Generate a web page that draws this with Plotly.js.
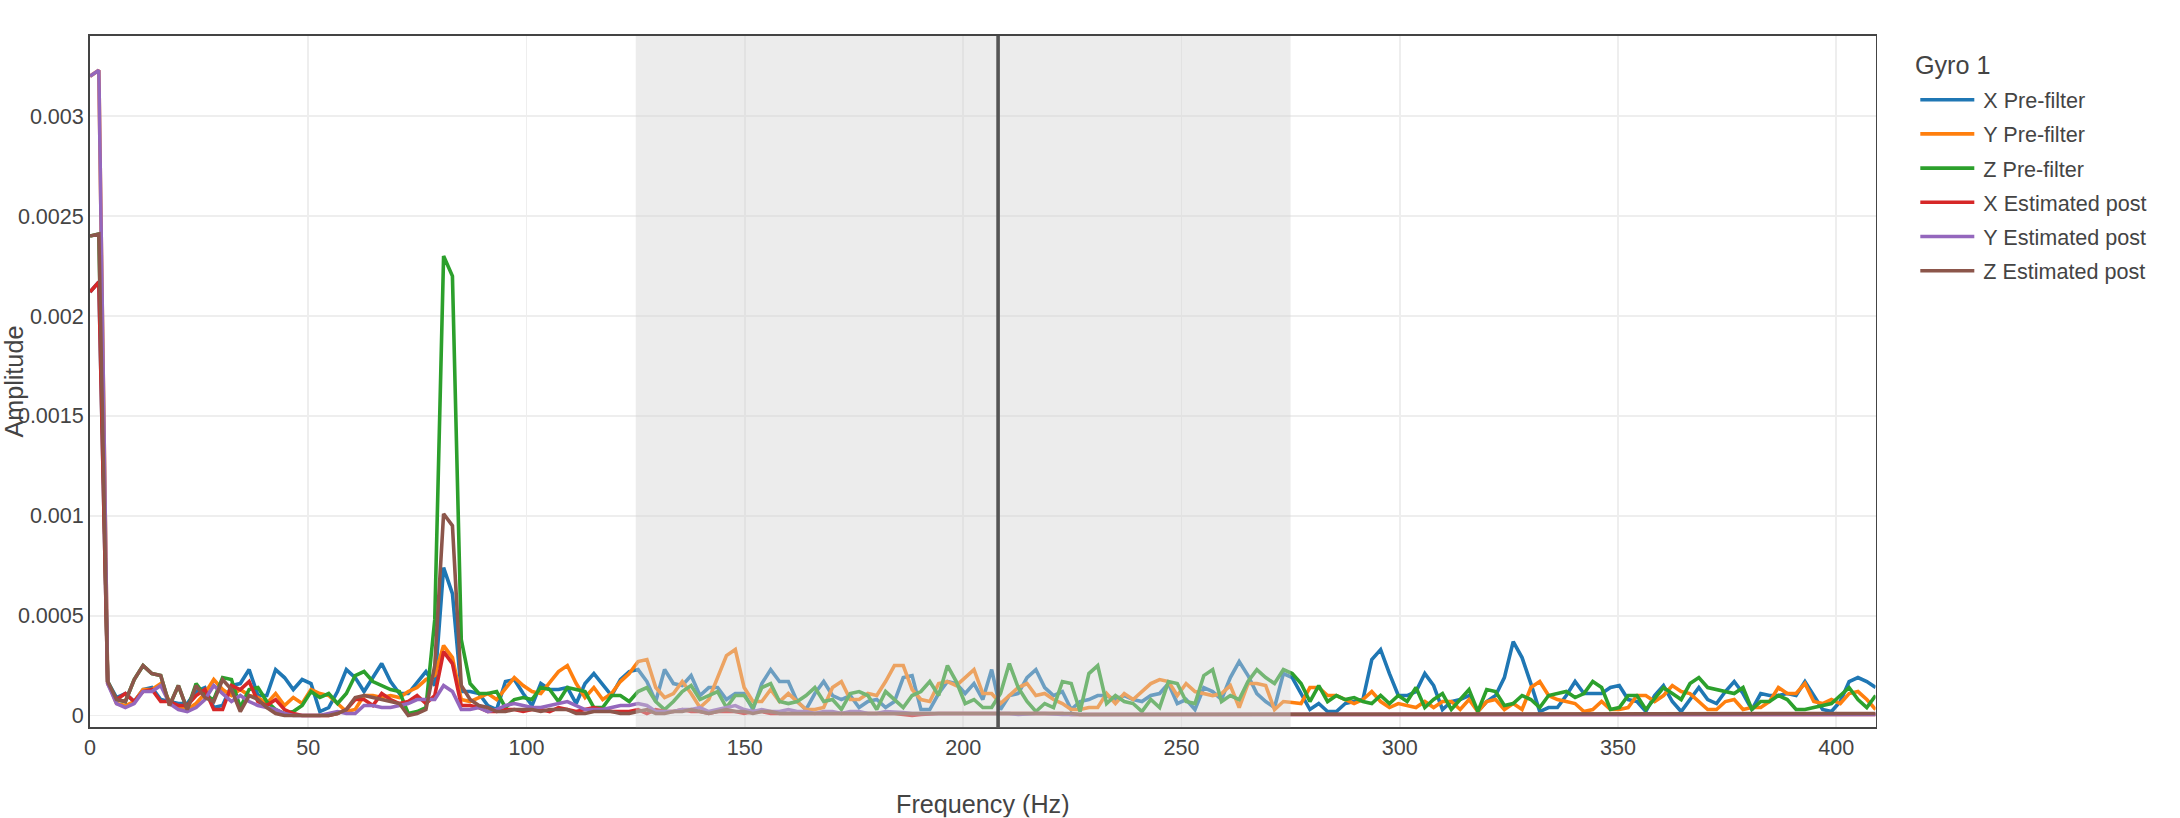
<!DOCTYPE html>
<html>
<head>
<meta charset="utf-8">
<script src="https://cdn.plot.ly/plotly-3.0.1.min.js"></script>
<style>
  html, body { margin: 0; padding: 0; background: #fff; overflow: hidden; }
  #stage { width: 2180px; height: 818px; overflow: hidden; }
  #chart { width: 1211.11px; height: 454.44px; transform: scale(1.8); transform-origin: 0 0; }
</style>
</head>
<body>
<div id="stage"><div id="chart"></div></div>
<script>
// Frequency bins: first bin at 0 Hz, bin spacing in Hz
const FIRST_BIN_HZ = 0;
const BIN_HZ = 2.0248;
// Amplitudes below are in units of 1e-4
const AMP_UNIT = 1e-4;

const seriesNames = ["X Pre-filter", "Y Pre-filter", "Z Pre-filter",
                     "X Estimated post", "Y Estimated post", "Z Estimated post"];

const xTickVals = [0, 50, 100, 150, 200, 250, 300, 350, 400];
const yTickVals = [0, 0.0005, 0.001, 0.0015, 0.002, 0.0025, 0.003];
const yTickText = ["0", "0.0005", "0.001", "0.0015", "0.002", "0.0025", "0.003"];

const xPre = [
 21.2,21.7,1.7,0.9,1.1,0.7,1.3,1.4,0.8,0.7,
 0.6,0.6,1.2,1.4,0.4,0.5,1.5,1.6,2.3,1.0,
 1.0,2.3,1.9,1.3,1.8,1.6,0.2,0.4,1.2,2.3,
 1.9,1.2,1.9,2.6,1.7,1.1,1.1,1.7,2.2,1.5,
 7.4,6.1,1.2,1.2,1.1,0.5,0.3,1.7,1.8,1.1,
 0.5,1.6,1.3,1.3,1.4,0.6,1.6,2.1,1.5,1.0,
 1.8,2.2,2.3,1.7,0.7,2.3,1.6,1.5,2.0,1.0,
 1.4,1.4,0.8,1.1,1.1,0.3,1.6,2.3,1.7,1.7,
 0.7,0.3,1.1,1.7,1.0,0.8,1.0,0.4,0.7,0.8,
 0.4,0.7,1.9,2.0,0.3,0.3,1.1,1.7,1.6,1.1,
 1.6,0.8,2.3,0.3,1.0,1.1,1.9,2.3,1.4,1.0,
 1.2,0.3,0.7,0.8,1.0,1.0,0.8,1.0,0.8,0.7,
 1.0,1.1,1.6,0.6,0.8,0.3,1.4,1.2,0.8,1.9,
 2.7,2.0,1.1,0.7,0.4,2.1,1.9,1.1,0.3,0.6,
 0.2,0.2,0.6,0.7,0.8,2.8,3.3,2.1,1.0,1.0,
 1.2,2.1,1.5,0.3,0.7,0.8,1.0,0.2,0.7,1.0,
 1.9,3.7,2.9,1.6,0.2,0.4,0.4,1.0,1.7,1.1,
 1.1,1.1,1.4,1.5,0.8,0.7,0.2,1.0,1.5,0.7,
 0.2,0.8,1.4,0.8,0.6,1.2,1.7,1.1,0.3,1.1,
 1.0,1.0,1.1,1.0,1.7,1.0,0.3,0.2,0.7,1.7,
 1.9,1.7,1.4
];

const yPre = [
 32.0,32.3,1.7,0.6,0.5,0.7,1.3,1.3,1.6,0.7,
 0.4,0.3,0.6,1.1,1.8,1.3,1.0,1.3,1.0,0.9,
 0.6,1.1,0.5,0.9,0.6,1.3,1.1,1.0,0.6,0.2,
 0.3,1.0,1.0,0.9,1.0,0.9,1.2,1.4,1.8,2.0,
 3.5,2.9,0.8,0.7,0.9,1.1,0.8,1.3,1.9,1.5,
 1.2,1.1,1.6,2.2,2.5,1.6,0.9,1.4,0.8,1.1,
 1.7,2.1,2.7,2.8,1.4,0.9,1.1,1.7,1.1,0.4,
 0.8,1.9,3.0,3.3,1.4,0.7,0.7,1.3,0.7,1.1,
 0.7,0.3,0.3,0.4,1.4,1.7,0.8,0.8,1.1,1.0,
 1.7,2.5,2.5,1.3,0.8,0.7,1.6,1.7,1.5,1.9,
 2.3,1.1,1.1,0.6,1.0,1.4,1.6,1.0,1.1,0.8,
 0.6,0.3,0.3,0.4,0.4,1.1,0.6,1.1,0.8,1.2,
 1.6,1.8,1.7,1.0,1.6,1.2,1.1,1.0,1.1,1.5,
 0.4,1.6,1.6,1.5,0.3,0.7,0.65,0.6,1.4,1.4,
 1.0,1.0,0.8,0.6,0.8,1.2,0.7,0.4,0.6,0.5,
 0.4,0.7,0.4,0.7,0.7,0.3,0.8,0.2,0.7,0.8,
 0.3,0.6,0.3,1.4,1.7,1.0,0.8,0.7,0.6,0.2,
 0.3,0.7,0.3,0.3,0.4,1.0,1.0,0.7,1.0,1.5,
 1.2,1.1,0.7,0.3,0.3,0.7,0.8,0.3,0.4,0.4,
 0.7,1.4,1.1,1.1,1.6,0.7,0.6,0.8,0.6,1.1,
 1.2,0.8,0.3
];

const zPre = [
 24.0,24.1,1.7,0.8,0.7,1.8,2.5,2.1,2.0,0.5,
 1.5,0.3,1.6,1.0,0.8,1.9,1.8,0.4,1.3,1.4,
 0.7,0.3,0.1,0.2,0.5,1.2,0.9,1.1,0.6,1.1,
 2.0,2.2,1.7,1.5,1.3,1.2,0.1,0.2,0.4,4.8,
 23.0,22.0,3.8,1.6,1.1,1.1,1.2,0.4,0.8,0.9,
 0.8,1.4,1.3,0.7,1.4,1.3,1.2,0.4,0.4,1.0,
 1.0,0.7,1.2,1.4,0.7,0.3,0.7,1.2,1.5,0.8,
 1.0,1.2,0.4,1.0,1.0,0.4,1.4,1.6,0.7,0.6,
 0.7,1.0,1.4,0.7,0.8,0.3,1.1,1.2,1.0,0.3,
 1.2,0.8,0.4,1.0,1.2,1.7,1.0,2.5,1.7,0.6,
 0.8,0.4,0.4,1.1,2.6,1.4,0.7,0.2,0.6,0.4,
 1.7,1.6,0.2,2.1,2.5,0.6,1.0,0.7,0.6,0.2,
 0.8,0.4,1.7,1.6,0.7,0.6,2.0,2.3,0.7,1.0,
 0.8,1.7,2.3,1.9,1.6,2.3,2.1,1.6,0.7,1.5,
 0.7,1.0,0.8,0.9,0.7,0.6,1.0,0.6,1.0,0.7,
 1.4,0.4,0.8,1.1,0.3,0.8,1.3,0.2,1.3,1.2,
 0.5,0.6,1.0,0.8,0.4,1.0,1.1,1.2,0.9,1.1,
 1.7,1.4,0.3,0.4,1.0,1.0,0.3,0.8,1.4,1.1,
 0.8,1.6,1.9,1.4,1.3,1.2,1.1,1.4,0.3,0.7,
 0.7,1.0,0.8,0.3,0.3,0.4,0.5,0.6,1.0,1.4,
 0.8,0.4,1.0
];

const xPost = [
 21.2,21.7,1.6,0.8,1.1,0.7,1.2,1.3,0.7,0.7,
 0.5,0.5,1.0,1.3,0.3,0.3,1.5,1.3,1.7,0.7,
 0.5,0.8,0.3,0.1,0.0,0.0,0.0,0.0,0.1,0.3,
 0.8,0.8,0.5,1.1,0.8,0.6,0.7,1.0,0.6,1.0,
 3.2,2.6,0.5,0.5,0.4,0.2,0.2,0.3,0.3,0.2,
 0.3,0.3,0.2,0.4,0.3,0.2,0.3,0.4,0.3,0.2,
 0.2,0.2,0.3,0.1,0.3,0.2,0.2,0.3,0.2,0.2,
 0.1,0.2,0.2,0.2,0.1,0.2,0.2,0.1,0.1,0.1,
 0.1,0.15,0.1,0.1,0.1,0.15,0.1,0.1,0.1,0.1,
 0.1,0.1,0.05,0.0,0.05,0.1,0.1,0.1,0.1,0.1,
 0.1,0.1,0.1,0.1,0.1,0.1,0.15,0.1,0.1,0.1,
 0.1,0.05,0.05,0.05,0.1,0.1,0.1,0.1,0.1,0.1,
 0.1,0.1,0.1,0.1,0.1,0.05,0.1,0.1,0.1,0.1,
 0.1,0.1,0.1,0.05,0.05,0.05,0.05,0.05,0.05,0.05,
 0.05,0.05,0.05,0.05,0.05,0.05,0.1,0.05,0.05,0.05,
 0.05,0.05,0.05,0.05,0.05,0.05,0.05,0.05,0.05,0.05,
 0.05,0.05,0.05,0.05,0.05,0.05,0.05,0.05,0.05,0.05,
 0.05,0.05,0.05,0.05,0.05,0.05,0.05,0.05,0.05,0.05,
 0.05,0.05,0.05,0.05,0.05,0.05,0.05,0.05,0.05,0.05,
 0.05,0.05,0.05,0.05,0.05,0.05,0.05,0.05,0.05,0.05,
 0.05,0.05,0.05
];

const yPost = [
 32.0,32.3,1.6,0.6,0.4,0.6,1.2,1.2,1.5,0.6,
 0.3,0.2,0.4,0.8,1.5,1.1,0.7,1.0,0.7,0.5,
 0.4,0.3,0.1,0.0,0.0,0.0,0.0,0.1,0.2,0.1,
 0.1,0.5,0.5,0.4,0.4,0.5,0.6,0.8,0.8,0.8,
 1.5,1.2,0.3,0.3,0.4,0.2,0.3,0.5,0.6,0.5,
 0.4,0.4,0.5,0.6,0.7,0.5,0.3,0.3,0.3,0.4,
 0.5,0.5,0.6,0.5,0.2,0.2,0.2,0.3,0.3,0.4,
 0.2,0.3,0.4,0.5,0.3,0.2,0.3,0.2,0.2,0.3,
 0.2,0.2,0.1,0.2,0.2,0.1,0.2,0.2,0.1,0.1,
 0.2,0.2,0.15,0.1,0.1,0.1,0.1,0.15,0.1,0.1,
 0.1,0.1,0.1,0.1,0.1,0.05,0.1,0.1,0.1,0.05,
 0.05,0.05,0.05,0.05,0.05,0.05,0.05,0.05,0.05,0.05,
 0.05,0.05,0.05,0.05,0.05,0.05,0.05,0.05,0.05,0.05,
 0.05,0.05,0.05,0.05,0.05,0.05,0.05,0.05,0.05,0.05,
 0.05,0.05,0.05,0.05,0.05,0.05,0.05,0.05,0.05,0.05,
 0.05,0.05,0.05,0.05,0.05,0.05,0.05,0.05,0.05,0.05,
 0.05,0.05,0.05,0.05,0.05,0.05,0.05,0.05,0.05,0.05,
 0.05,0.05,0.05,0.05,0.05,0.05,0.05,0.05,0.05,0.05,
 0.05,0.05,0.05,0.05,0.05,0.05,0.05,0.05,0.05,0.05,
 0.05,0.05,0.05,0.05,0.05,0.05,0.05,0.05,0.05,0.05,
 0.05,0.05,0.05
];

const zPost = [
 24.0,24.1,1.7,0.8,0.7,1.8,2.5,2.1,2.0,0.5,
 1.5,0.3,1.5,0.9,0.7,1.8,1.3,0.2,1.0,0.8,
 0.4,0.1,0.0,0.0,0.0,0.0,0.0,0.0,0.1,0.3,
 0.9,1.0,0.9,0.8,0.7,0.6,0.0,0.1,0.3,2.5,
 10.1,9.5,1.5,0.8,0.5,0.4,0.2,0.2,0.3,0.3,
 0.3,0.2,0.3,0.3,0.3,0.1,0.1,0.2,0.2,0.2,
 0.1,0.1,0.2,0.3,0.1,0.1,0.2,0.2,0.3,0.2,
 0.1,0.2,0.3,0.2,0.2,0.1,0.2,0.2,0.1,0.1,
 0.1,0.1,0.1,0.1,0.1,0.1,0.1,0.1,0.1,0.1,
 0.1,0.1,0.1,0.15,0.1,0.1,0.1,0.1,0.1,0.1,
 0.1,0.1,0.1,0.1,0.1,0.15,0.1,0.1,0.1,0.1,
 0.1,0.1,0.05,0.05,0.1,0.1,0.1,0.1,0.1,0.1,
 0.1,0.1,0.1,0.1,0.1,0.1,0.1,0.1,0.1,0.1,
 0.1,0.1,0.1,0.1,0.1,0.1,0.1,0.1,0.1,0.1,
 0.1,0.1,0.1,0.1,0.1,0.1,0.1,0.1,0.1,0.1,
 0.1,0.1,0.1,0.1,0.1,0.1,0.1,0.1,0.1,0.1,
 0.1,0.1,0.1,0.1,0.1,0.1,0.1,0.1,0.1,0.1,
 0.1,0.1,0.1,0.1,0.1,0.1,0.1,0.1,0.1,0.1,
 0.1,0.1,0.1,0.1,0.1,0.1,0.1,0.1,0.1,0.1,
 0.1,0.1,0.1,0.1,0.1,0.1,0.1,0.1,0.1,0.1,
 0.1,0.1,0.1
];

const seriesValues = [xPre, yPre, zPre, xPost, yPost, zPost];
const seriesColors = ["#1f77b4", "#ff7f0e", "#2ca02c", "#d62728", "#9467bd", "#8c564b"];

// Highlighted band and marker frequency (Hz)
const bandLowHz = 125;
const bandHighHz = 275;
const markerHz = 208;

const traces = seriesValues.map((vals, k) => ({
  type: "scatter",
  mode: "lines",
  name: seriesNames[k],
  x0: FIRST_BIN_HZ,
  dx: BIN_HZ,
  y: vals.map(v => v * AMP_UNIT),
  line: { color: seriesColors[k], width: 2 }
}));

const layout = {
  width: 1211.11,
  height: 454.44,
  margin: { l: 50, r: 169, t: 20, b: 50 },
  paper_bgcolor: "#fff",
  plot_bgcolor: "#fff",
  font: { family: "Arial, 'Liberation Sans', sans-serif", size: 12, color: "#444" },
  showlegend: true,
  legend: { title: { text: "Gyro 1" }, x: 1.02, xanchor: "left", y: 0.993, yanchor: "top" },
  xaxis: {
    title: { text: "Frequency (Hz)", font: { size: 14 } },
    range: [0, 409],
    tickmode: "array",
    tickvals: xTickVals,
    showgrid: true, gridcolor: "#eee",
    zeroline: false,
    showline: true, mirror: true, linecolor: "#444", linewidth: 1
  },
  yaxis: {
    title: { text: "Amplitude", font: { size: 14 } },
    range: [-0.0000585, 0.0034015],
    tickmode: "array",
    tickvals: yTickVals,
    ticktext: yTickText,
    showgrid: true, gridcolor: "#eee",
    zeroline: false,
    showline: true, mirror: true, linecolor: "#444", linewidth: 1
  },
  shapes: [
    { type: "rect", xref: "x", yref: "paper", x0: bandLowHz, x1: bandHighHz, y0: 0, y1: 1,
      fillcolor: "lightgray", opacity: 0.43, line: { width: 0 }, layer: "above" },
    { type: "line", xref: "x", yref: "paper", x0: markerHz, x1: markerHz, y0: 0, y1: 1,
      line: { color: "#555", width: 2 }, layer: "above" }
  ]
};

Plotly.newPlot("chart", traces, layout, { displayModeBar: false, staticPlot: true });
</script>
</body>
</html>
